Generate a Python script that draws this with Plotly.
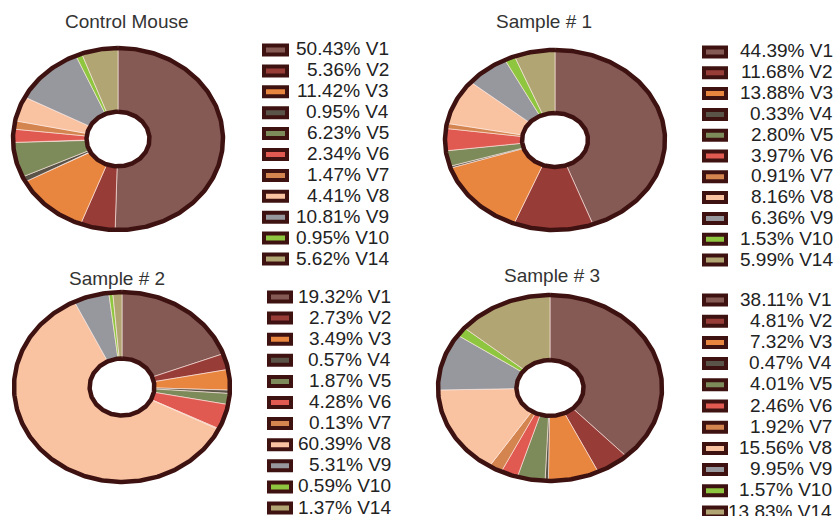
import numpy as np
import plotly.graph_objects as go

# Category labels and slice colours shared by all four donuts
labels = ["V1", "V2", "V3", "V4", "V5", "V6", "V7", "V8", "V9", "V10", "V14"]
colors = ["#855a54", "#983c38", "#e8863f", "#5a5347", "#7d8a5a", "#e05a52",
          "#d4844e", "#f9c3a1", "#96989d", "#8ec63f", "#b1a673"]

# Percent composition per sample
control_mouse = [50.43, 5.36, 11.42, 0.95, 6.23, 2.34, 1.47, 4.41, 10.81, 0.95, 5.62]
sample_1 = [44.39, 11.68, 13.88, 0.33, 2.80, 3.97, 0.91, 8.16, 6.36, 1.53, 5.99]
sample_2 = [19.32, 2.73, 3.49, 0.57, 1.87, 4.28, 0.13, 60.39, 5.31, 0.59, 1.37]
sample_3 = [38.11, 4.81, 7.32, 0.47, 4.01, 2.46, 1.92, 15.56, 9.95, 1.57, 13.83]

titles = ["Control Mouse", "Sample # 1", "Sample # 2", "Sample # 3"]
series = [control_mouse, sample_1, sample_2, sample_3]

W, H = 840, 516
BORDER = "#3f1212"
HOLE = 0.3
PAD = 1.04

# Panel geometry in pixels: donut centre/radii, title, legend column
panels = [
    dict(cx=118, cy=139, rx=105, ry=91, tx=127, ty=22,
         sw=(262, 289), row0=50, step=20.9, tr=391),
    dict(cx=555, cy=140, rx=110, ry=90, tx=544, ty=22,
         sw=(702, 728), row0=52, step=20.8, tr=835),
    dict(cx=122, cy=387, rx=108, ry=95, tx=117, ty=278,
         sw=(267, 293), row0=297, step=21.1, tr=393),
    dict(cx=550, cy=388, rx=112, ry=93, tx=552, ty=275,
         sw=(702, 728), row0=300, step=21.2, tr=834),
]


def px_x(x):
    return x / W


def px_y(y):
    return 1 - y / H


def ring_slice(a0, a1, r_in):
    n = max(3, int((a1 - a0) / (2 * np.pi) * 360) + 3)
    t = np.linspace(a0, a1, n)
    xs = np.concatenate([np.sin(t), r_in * np.sin(t[::-1]), [np.sin(t[0])]])
    ys = np.concatenate([np.cos(t), r_in * np.cos(t[::-1]), [np.cos(t[0])]])
    return xs, ys


fig = go.Figure()
layout_axes = {}
shapes = []
annotations = []

for k, (vals, title, p) in enumerate(zip(series, titles, panels)):
    xa = "x" if k == 0 else f"x{k + 1}"
    ya = "y" if k == 0 else f"y{k + 1}"
    vals = np.asarray(vals, dtype=float)
    frac = vals / vals.sum()
    ang = np.concatenate([[0], np.cumsum(frac)]) * 2 * np.pi

    # Slices, clockwise from 12 o'clock
    for i, lab in enumerate(labels):
        xs, ys = ring_slice(ang[i], ang[i + 1], HOLE)
        fig.add_trace(go.Scatter(
            x=xs, y=ys, xaxis=xa, yaxis=ya, mode="lines", fill="toself",
            fillcolor=colors[i], line=dict(color="rgba(255,235,230,0.85)", width=0.7),
            name=lab, showlegend=False, hoverinfo="text",
            text=f"{vals[i]:.2f}% {lab}"))

    # Outer rim and hole rim
    t = np.linspace(0, 2 * np.pi, 361)
    fig.add_trace(go.Scatter(x=np.sin(t), y=np.cos(t), xaxis=xa, yaxis=ya,
                             mode="lines", line=dict(color=BORDER, width=4.5),
                             showlegend=False, hoverinfo="skip"))
    fig.add_trace(go.Scatter(x=HOLE * np.sin(t), y=HOLE * np.cos(t), xaxis=xa, yaxis=ya,
                             mode="lines", fill="toself", fillcolor="white",
                             line=dict(color=BORDER, width=4.5),
                             showlegend=False, hoverinfo="skip"))

    hw, hh = p["rx"] * PAD, p["ry"] * PAD
    axis_common = dict(range=[-PAD, PAD], visible=False, fixedrange=True,
                       showgrid=False, zeroline=False)
    layout_axes["xaxis" if k == 0 else f"xaxis{k + 1}"] = dict(
        domain=[px_x(p["cx"] - hw), px_x(p["cx"] + hw)], anchor=ya, **axis_common)
    layout_axes["yaxis" if k == 0 else f"yaxis{k + 1}"] = dict(
        domain=[px_y(p["cy"] + hh), px_y(p["cy"] - hh)], anchor=xa, **axis_common)

    # Title
    annotations.append(dict(text=title, x=px_x(p["tx"]), y=px_y(p["ty"]),
                            xref="paper", yref="paper", showarrow=False,
                            xanchor="center", yanchor="middle",
                            font=dict(size=19, color="#333333",
                                      family="Liberation Sans, Arial, sans-serif")))

    # Legend column: framed swatch + right-aligned label
    for i, lab in enumerate(labels):
        yc = p["row0"] + i * p["step"]
        shapes.append(dict(type="rect", xref="paper", yref="paper",
                           x0=px_x(p["sw"][0] + 2), x1=px_x(p["sw"][1] - 2),
                           y0=px_y(yc + 4.5), y1=px_y(yc - 4.5),
                           fillcolor=colors[i], line=dict(color=BORDER, width=4)))
        annotations.append(dict(text=f"{vals[i]:.2f}% {lab}",
                                x=px_x(p["tr"]), y=px_y(yc - 1),
                                xref="paper", yref="paper", showarrow=False,
                                xanchor="right", yanchor="middle",
                                font=dict(size=19, color="#222222",
                                          family="Liberation Sans, Arial, sans-serif")))

fig.update_layout(
    width=W, height=H, margin=dict(l=0, r=0, t=0, b=0),
    paper_bgcolor="white", plot_bgcolor="white",
    showlegend=False, shapes=shapes, annotations=annotations,
    **layout_axes)

fig.write_html("out.html")
